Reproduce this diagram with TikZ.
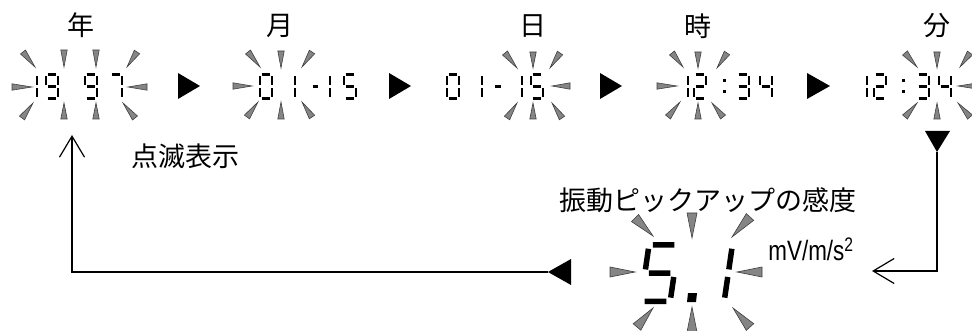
\documentclass[tikz,border=0pt]{standalone}
\usepackage{fontspec}
\usepackage{graphicx}
\newfontfamily\jp{Noto Sans CJK JP}
\newfontfamily\unitfont{Liberation Sans}
\usetikzlibrary{calc,arrows.meta}
\tikzset{
 sa/.style={insert path={(1.6,0)--(10.4,0)}},
 sb/.style={insert path={(12,1.6)--(12,10.4)}},
 sc/.style={insert path={(12,13.6)--(12,22.4)}},
 sd/.style={insert path={(1.6,24)--(10.4,24)}},
 se/.style={insert path={(0,13.6)--(0,22.4)}},
 sf/.style={insert path={(0,1.6)--(0,10.4)}},
 sg/.style={insert path={(1.6,12)--(10.4,12)}},
 seg/.style={draw=black, line width=2.2pt, line cap=butt},
 bigseg/.style={draw=black, line width=5.5pt, line cap=butt},
 raystyle/.style={fill=black!48, draw=black!75, line width=0.6pt, line join=miter},
 lbl/.style={font=\jp\fontsize{27}{27}\selectfont, inner sep=0pt},
 conn/.style={draw=black, line width=1.2pt},
 opentip/.style={-{Straight Barb[length=21pt,width=25pt]}},
 tri/.style={fill=black}
}
\newcommand\dg[3]{\path[seg,shift={(#1,74.5)}] [#3];}
\newcommand\ray[3]{\filldraw[raystyle] (#2) -- ($(#1)!#3!90:(#2)$) -- ($(#1)!#3!-90:(#2)$) -- cycle;}
\newcommand\sray[2]{\ray{#1}{#2}{3.2pt}}
\newcommand\bray[2]{\ray{#1}{#2}{5pt}}
\begin{document}
\begin{tikzpicture}[x=1pt,y=-1pt]
\useasboundingbox (0,0) rectangle (972,331);
% labels
\node[lbl] (lyear) at (81,25) {年};
\node[lbl] (lmonth) at (280,26) {月};
\node[lbl] (lday) at (533,26) {日};
\node[lbl] (lhour) at (698,26) {時};
\node[lbl] (lmin) at (937,26) {分};
\node[lbl] (blink) at (185,156) {点滅表示};
\node[lbl] (sens) at (708,200) {振動ピックアップの感度};
\node[inner sep=0pt] (unit) at (811,249) {\scalebox{0.8}[1]{\unitfont\fontsize{28}{28}\selectfont mV/m/s\textsuperscript{2}}};
% display 1: 1997
\dg{25}{}{sb,sc}
\dg{46}{}{sa,sb,sc,sd,sf,sg}
\dg{85}{}{sa,sb,sc,sd,sf,sg}
\dg{110}{}{sa,sb,sc}
\sray{23,52}{35,67} \sray{64,50}{64,67} \sray{96,50}{96,67} \sray{137,52}{127,67}
\sray{12,87}{32,87} \sray{147,87}{128,87}
\sray{22,118}{33,103} \sray{64,119}{64,103} \sray{96,119}{96,103} \sray{135,118}{123,103}
\fill[tri] (178,73) -- (178,99) -- (200,86) -- cycle;
% display 2: 01-15
\dg{260}{}{sa,sb,sc,sd,se,sf}
\dg{283}{}{sb,sc}
\draw[seg] (312.5,86.5) -- (317.5,86.5);
\dg{318}{}{sb,sc}
\dg{344}{}{sa,sf,sg,sc,sd}
\sray{248,52}{260,67} \sray{281,51}{281,68} \sray{312,52}{302,67}
\sray{233,86}{252,86}
\sray{247,117}{258,102} \sray{281,119}{281,102} \sray{312,117}{302,102}
\fill[tri] (389,73) -- (389,99) -- (411,86) -- cycle;
% display 3: 01-15
\dg{447}{}{sa,sb,sc,sd,se,sf}
\dg{470}{}{sb,sc}
\draw[seg] (495,86.5) -- (501,86.5);
\dg{510}{}{sb,sc}
\dg{531}{}{sa,sf,sg,sc,sd}
\sray{505,53}{517,68} \sray{533,52}{533,68} \sray{560,53}{550,68}
\sray{570,86}{552,86}
\sray{507,118}{517,103} \sray{533,119}{533,103} \sray{562,118}{552,103}
\fill[tri] (600,73) -- (600,99) -- (622,86) -- cycle;
% display 4: 12:34
\dg{676}{}{sb,sc}
\dg{694}{}{sa,sb,sg,se,sd}
\fill (723,79) rectangle (726,82); \fill (723,90) rectangle (726,93);
\dg{737}{}{sa,sb,sg,sc,sd}
\dg{760}{}{sf,sg,sb,sc}
\sray{657,86}{677,86}
\sray{672,53}{683,67} \sray{698,52}{698,68} \sray{727,53}{717,68}
\sray{668,117}{680,102} \sray{698,119}{698,103} \sray{723,117}{712,103}
\fill[tri] (807,73) -- (807,99) -- (830,86) -- cycle;
% display 5: 12:34
\dg{855}{}{sb,sc}
\dg{874}{}{sa,sb,sg,se,sd}
\fill (902,79) rectangle (905,82); \fill (902,90) rectangle (905,93);
\dg{917}{}{sa,sb,sg,sc,sd}
\dg{939}{}{sf,sg,sb,sc}
\sray{905,53}{917,67} \sray{937,52}{937,68} \sray{970,53}{960,67}
\sray{978,86}{958,86}
\sray{905,117}{917,103} \sray{937,119}{937,103} \sray{970,117}{958,103}
% big display 5.1
\path[bigseg,shift={(649,245)},xscale=2.45,yscale=2.35,xslant=0.14] [sa,sf,sg,sc,sd];
\path[bigseg,shift={(703,245)},xscale=2.45,yscale=2.35,xslant=0.14] [sb,sc];
\fill (688,293) -- (697,293) -- (696,302) -- (687,302) -- cycle;
\bray{635,218}{653,236} \bray{692,213}{692,238} \bray{750,217}{732,237}
\bray{610,272}{635,272} \bray{762,272}{737,272}
\bray{637,327}{653,308} \bray{692,332}{692,307} \bray{750,327}{733,308}
% connectors
\coordinate (ltip) at (548,272);
\coordinate (c1) at (72,272);
\coordinate (upend) at (72,135);
\fill[tri] (ltip) -- (571,259) -- (571,285) -- cycle;
\draw[conn,opentip] (ltip) -- (c1) -- (upend);
\coordinate (dtip) at (937,152);
\coordinate (c2) at (937,271);
\coordinate (rend) at (872,271);
\fill[tri] (dtip) -- (925,131) -- (950,131) -- cycle;
\draw[conn,opentip] (dtip) -- (c2) -- (rend);
\end{tikzpicture}
\end{document}
